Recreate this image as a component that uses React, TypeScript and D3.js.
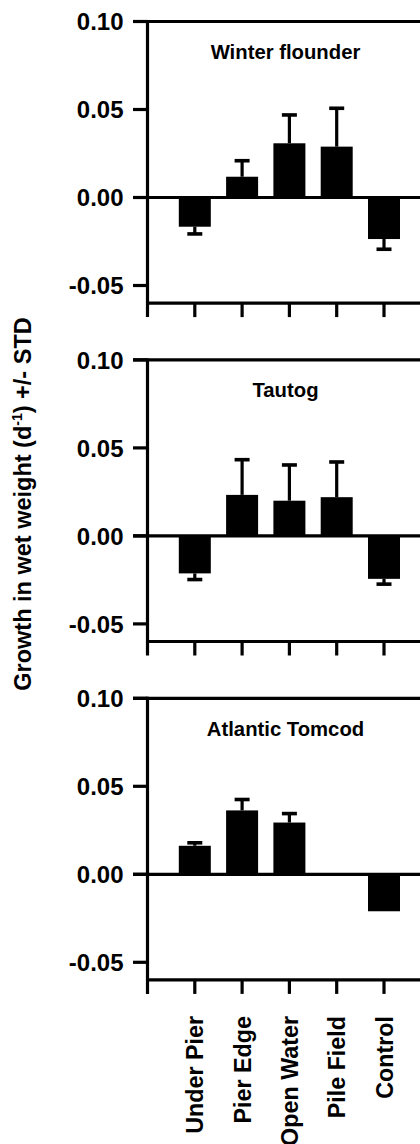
import React from "react";
import * as d3 from "d3";

const categories = ["Under Pier", "Pier Edge", "Open Water", "Pile Field", "Control"];
const speciesNames = ["Winter flounder", "Tautog", "Atlantic Tomcod"];

const winterFlounderMean = [-0.0166, 0.0118, 0.0308, 0.0289, -0.0236];
const winterFlounderStd = [0.0041, 0.0091, 0.0161, 0.0218, 0.0058];

const tautogMean = [-0.0213, 0.0233, 0.0200, 0.0220, -0.0244];
const tautogStd = [0.0035, 0.0200, 0.0203, 0.0200, 0.0030];

const tomcodMean = [0.0162, 0.0363, 0.0294, null, -0.0210];
const tomcodStd = [0.0017, 0.0062, 0.0051, null, 0];

const yTicks = [0.1, 0.05, 0.0, -0.05];
const yDomain: [number, number] = [-0.06, 0.1];

const panels = [
  { name: speciesNames[0], mean: winterFlounderMean, std: winterFlounderStd },
  { name: speciesNames[1], mean: tautogMean, std: tautogStd },
  { name: speciesNames[2], mean: tomcodMean, std: tomcodStd },
];

const FONT = "'Liberation Sans', Arial, Helvetica, sans-serif";
const fmt = (v: number) => d3.format(".2f")(v).replace("\u2212", "-");

export default function App() {
  const W = 420;
  const H = 1144;
  const axisX = 147.5;
  const x = d3.scaleLinear().domain([0, 6]).range([axisX, 431.3]);
  const panelTop0 = 21.5;
  const panelGap = 338.4;
  const panelH = 281.6;
  const barW = 32;
  const capW = 15;
  const lw = 3.2;
  const rightEdge = 445;

  return (
    <svg
      width={W}
      height={H}
      style={{ position: "absolute", left: 0, top: 0, background: "#fff" }}
      fontFamily={FONT}
    >
      <rect x={0} y={0} width={W} height={H} fill="#fff" />
      {panels.map((p, pi) => {
        const top = panelTop0 + pi * panelGap;
        const y = d3.scaleLinear().domain(yDomain).range([top + panelH, top]);
        const bottom = y(yDomain[0]);
        return (
          <g key={p.name}>
            {p.mean.map((m, i) => {
              if (m === null || m === undefined) return null;
              const cx = x(i + 1);
              const y0 = y(0);
              const ym = y(m);
              const s = p.std[i] ?? 0;
              const ye = y(m >= 0 ? m + s : m - s);
              return (
                <g key={i}>
                  <rect
                    x={cx - barW / 2}
                    y={Math.min(y0, ym)}
                    width={barW}
                    height={Math.abs(ym - y0)}
                    fill="#000"
                  />
                  {s > 0 && (
                    <>
                      <line x1={cx} x2={cx} y1={ym} y2={ye} stroke="#000" strokeWidth={lw} />
                      <line
                        x1={cx - capW / 2}
                        x2={cx + capW / 2}
                        y1={ye}
                        y2={ye}
                        stroke="#000"
                        strokeWidth={3.6}
                      />
                    </>
                  )}
                </g>
              );
            })}
            <line x1={133} x2={rightEdge} y1={y(0)} y2={y(0)} stroke="#000" strokeWidth={lw} />
            <line x1={133} x2={rightEdge} y1={y(0.1)} y2={y(0.1)} stroke="#000" strokeWidth={lw} />
            <line x1={axisX} x2={rightEdge} y1={bottom} y2={bottom} stroke="#000" strokeWidth={lw} />
            <line x1={axisX} x2={axisX} y1={top - 1.5} y2={bottom + 14} stroke="#000" strokeWidth={lw} />
            {yTicks.map((t) => (
              <g key={t}>
                <line x1={133} x2={axisX} y1={y(t)} y2={y(t)} stroke="#000" strokeWidth={lw} />
                <text
                  x={123.5}
                  y={y(t)}
                  dy="0.36em"
                  textAnchor="end"
                  fontSize={24}
                  fontWeight="bold"
                  fill="#000"
                >
                  {fmt(t)}
                </text>
              </g>
            ))}
            {d3.range(1, 7).map((k) => (
              <line
                key={k}
                x1={x(k)}
                x2={x(k)}
                y1={bottom}
                y2={bottom + 14}
                stroke="#000"
                strokeWidth={lw}
              />
            ))}
            <text
              x={285.5}
              y={top + 37.5}
              textAnchor="middle"
              fontSize={20.3}
              fontWeight="bold"
              fill="#000"
            >
              {p.name}
            </text>
          </g>
        );
      })}
      {categories.map((c, i) => (
        <text
          key={c}
          transform={`translate(${x(i + 1) + 8.5},${1016}) rotate(-90)`}
          textAnchor="end"
          fontSize={23.3}
          fontWeight="bold"
          fill="#000"
        >
          {c}
        </text>
      ))}
      <text
        transform={`translate(31,504) rotate(-90)`}
        textAnchor="middle"
        fontSize={23.5}
        fontWeight="bold"
        fill="#000"
      >
        Growth in wet weight (d
        <tspan fontSize={14} dy={-9}>-1</tspan>
        <tspan dy={9}>) +/- STD</tspan>
      </text>
    </svg>
  );
}
